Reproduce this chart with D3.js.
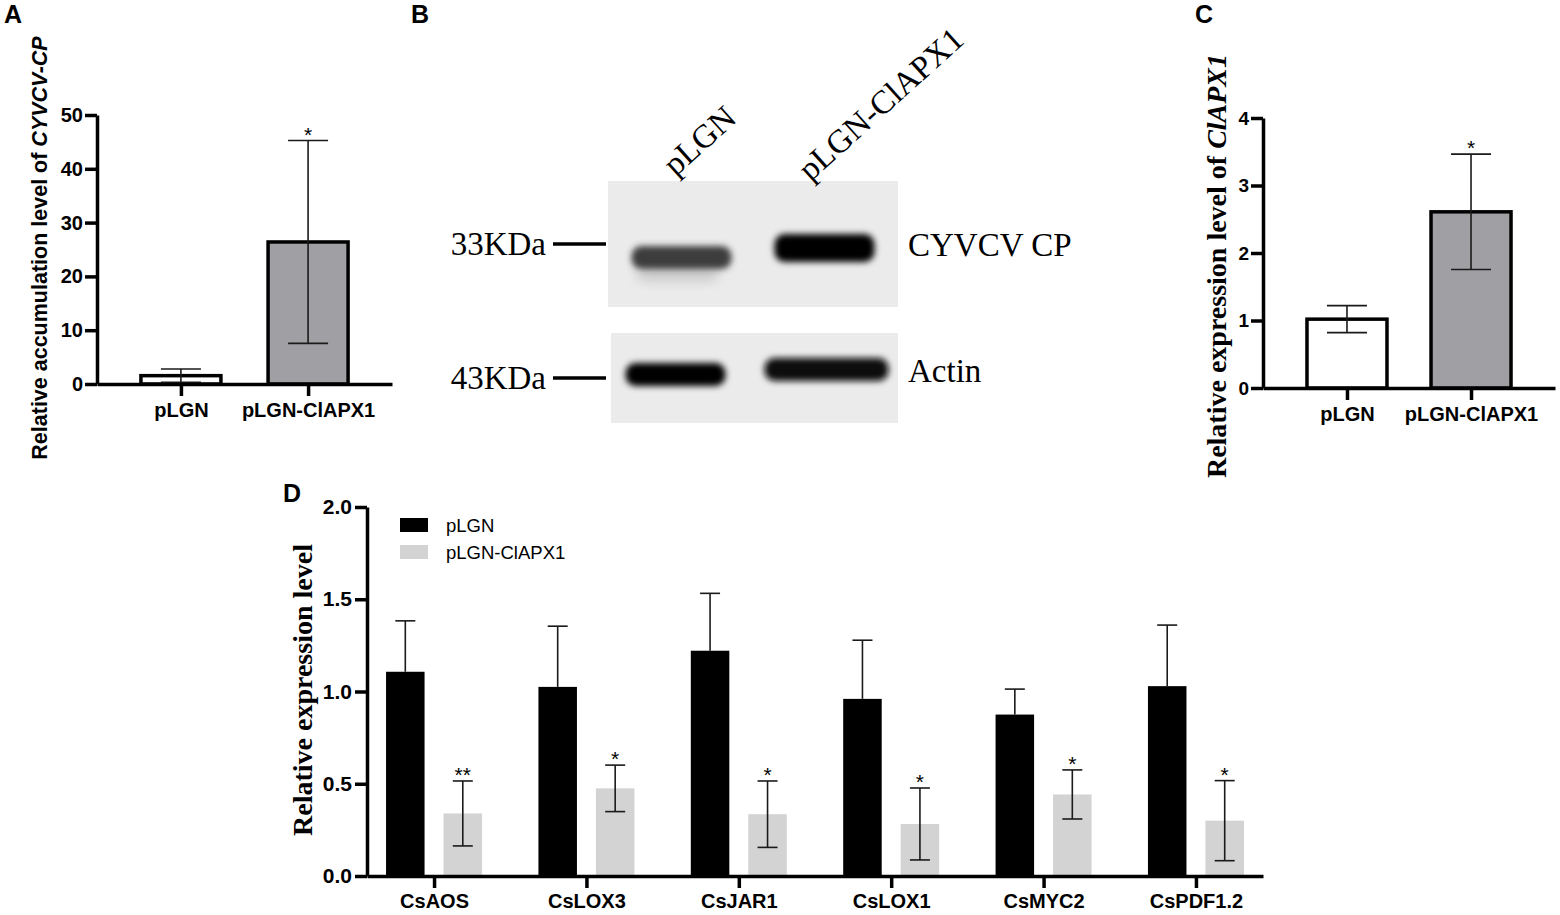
<!DOCTYPE html>
<html>
<head>
<meta charset="utf-8">
<script src="https://cdn.jsdelivr.net/npm/d3@7"></script>
<style>
  body { margin: 0; background: #fff; }
  svg { display: block; }
  text { font-family: "Liberation Sans", Arial, sans-serif; fill: #000; }
  .serif { font-family: "Liberation Serif", "Times New Roman", serif; }
</style>
</head>
<body>
<div id="chart"></div>
<script>
// ---- data ----
const groups = ['pLGN', 'pLGN-ClAPX1'];

// panel A: CYVCV-CP accumulation (mean, sd)
const cpMean = [1.55, 26.4];
const cpSD = [1.24, 18.85];
const cpSig = ['', '*'];
const cpTicks = [0, 10, 20, 30, 40, 50];

// panel C: ClAPX1 expression
const apxMean = [1.02, 2.61];
const apxSD = [0.2, 0.855];
const apxSig = ['', '*'];
const apxTicks = [0, 1, 2, 3, 4];

// panel D: JA pathway genes
const genes = ['CsAOS', 'CsLOX3', 'CsJAR1', 'CsLOX1', 'CsMYC2', 'CsPDF1.2'];
const ctrlMean = [1.107, 1.025, 1.221, 0.960, 0.875, 1.029];
const ctrlSD = [0.276, 0.329, 0.311, 0.318, 0.138, 0.331];
const apxGeneMean = [0.339, 0.475, 0.335, 0.282, 0.442, 0.300];
const apxGeneSD = [0.176, 0.126, 0.180, 0.195, 0.133, 0.217];
const geneSig = ['**', '*', '*', '*', '*', '*'];
const dTicks = [0, 0.5, 1.0, 1.5, 2.0];

// panel B: western blot
const blotRows = ['CYVCV CP', 'Actin'];
const markers = ['33KDa', '43KDa'];
const bandDensity = [[0.74, 1.0], [1.0, 0.96]];

const width = 1560, height = 915;

const svg = d3.select('#chart').append('svg')
  .attr('width', width)
  .attr('height', height);

const defs = svg.append('defs');
defs.append('filter').attr('id', 'blur')
  .attr('x', '-30%').attr('y', '-60%').attr('width', '160%').attr('height', '220%')
  .append('feGaussianBlur').attr('stdDeviation', 3.2);
defs.append('filter').attr('id', 'blur2')
  .attr('x', '-30%').attr('y', '-60%').attr('width', '160%').attr('height', '220%')
  .append('feGaussianBlur').attr('stdDeviation', 6);

// panel letters
const letters = [['A', 4, 23], ['B', 411, 23], ['C', 1195, 23], ['D', 283, 502]];
svg.selectAll('text.letter').data(letters).join('text')
  .attr('class', 'letter')
  .attr('x', d => d[1]).attr('y', d => d[2])
  .attr('font-size', 25).attr('font-weight', 'bold')
  .text(d => d[0]);

function styleAxis(g, w) {
  g.select('.domain').attr('stroke', '#000').attr('stroke-width', w);
  g.selectAll('.tick line').attr('stroke', '#000').attr('stroke-width', w);
  g.selectAll('.tick text').attr('font-weight', 'bold').attr('fill', '#000')
    .attr('font-family', '"Liberation Sans", Arial, sans-serif');
}

// simple 2-bar panel (A and C)
function twoBarPanel(cfg) {
  const g = svg.append('g');
  const x = d3.scalePoint().domain(groups).range(cfg.xRange).padding(cfg.pad);
  const y = d3.scaleLinear().domain([0, d3.max(cfg.ticks)]).range(cfg.yRange);
  const rows = groups.map((k, i) => ({ k, m: cfg.mean[i], sd: cfg.sd[i], sig: cfg.sig[i], i }));

  g.selectAll('rect.bar').data(rows).join('rect')
    .attr('x', d => x(d.k) - 40).attr('width', 80)
    .attr('y', d => y(d.m)).attr('height', d => y(0) - y(d.m))
    .attr('fill', d => d.i === 0 ? '#fff' : '#a0a0a4')
    .attr('stroke', '#000').attr('stroke-width', 3.5);

  const err = g.selectAll('g.err').data(rows).join('g').attr('stroke', '#1a1a1a').attr('stroke-width', 1.6);
  err.append('line').attr('x1', d => x(d.k)).attr('x2', d => x(d.k))
    .attr('y1', d => y(Math.max(0, d.m - d.sd))).attr('y2', d => y(d.m + d.sd));
  err.append('line').attr('x1', d => x(d.k) - 20).attr('x2', d => x(d.k) + 20)
    .attr('y1', d => y(d.m + d.sd)).attr('y2', d => y(d.m + d.sd));
  err.append('line').attr('x1', d => x(d.k) - 20).attr('x2', d => x(d.k) + 20)
    .attr('y1', d => y(Math.max(0, d.m - d.sd))).attr('y2', d => y(Math.max(0, d.m - d.sd)));

  g.selectAll('text.sig').data(rows).join('text')
    .attr('x', d => x(d.k)).attr('y', d => y(d.m + d.sd) + 1)
    .attr('text-anchor', 'middle').attr('font-size', 21)
    .text(d => d.sig);

  const ya = g.append('g').attr('transform', `translate(${cfg.xRange[0]},0)`)
    .call(d3.axisLeft(y).tickValues(cfg.ticks).tickFormat(d3.format('d'))
      .tickSize(12).tickPadding(2).tickSizeOuter(0));
  styleAxis(ya, 3.5);
  ya.selectAll('.tick text').attr('font-size', cfg.tickFont);

  const xa = g.append('g').attr('transform', `translate(0,${y(0)})`)
    .call(d3.axisBottom(x).tickSize(12).tickPadding(7).tickSizeOuter(0));
  styleAxis(xa, 3.5);
  xa.selectAll('.tick text').attr('font-size', 20);
  return g;
}

// ---- A ----
twoBarPanel({ xRange: [97, 392], pad: 0.66, yRange: [384, 115], ticks: cpTicks,
  mean: cpMean, sd: cpSD, sig: cpSig, tickFont: 20 });
const labA = svg.append('text')
  .attr('transform', 'translate(47,248) rotate(-90)')
  .attr('text-anchor', 'middle').attr('font-size', 21.5).attr('font-weight', 'bold');
labA.append('tspan').text('Relative accumulation level of ');
labA.append('tspan').attr('font-style', 'italic').text('CYVCV-CP');

// ---- C ----
twoBarPanel({ xRange: [1263, 1555], pad: 0.677, yRange: [388, 118], ticks: apxTicks,
  mean: apxMean, sd: apxSD, sig: apxSig, tickFont: 19 });
const labC = svg.append('text').attr('class', 'serif')
  .attr('transform', 'translate(1226,266) rotate(-90)')
  .attr('text-anchor', 'middle').attr('font-size', 28).attr('font-weight', 'bold');
labC.append('tspan').text('Relative expression level of ');
labC.append('tspan').attr('font-style', 'italic').text('ClAPX1');

// ---- B : western blot ----
const gb = svg.append('g');
const lane = d3.scalePoint().domain(groups).range([608, 898]).padding(0.514);
const rowY = d3.scalePoint().domain(blotRows).range([251, 372]);
const blotBox = [{ x0: 608, y0: 181, y1: 307 }, { x0: 611, y0: 333, y1: 423 }];

gb.selectAll('rect.blot').data(blotRows).join('rect')
  .attr('x', (d, i) => blotBox[i].x0).attr('width', (d, i) => 898 - blotBox[i].x0)
  .attr('y', (d, i) => blotBox[i].y0).attr('height', (d, i) => blotBox[i].y1 - blotBox[i].y0)
  .attr('fill', '#ebebeb');

const bands = [];
blotRows.forEach((r, ri) => groups.forEach((l, li) => bands.push({ r, ri, l, li, v: bandDensity[ri][li] })));
const shade = d3.interpolateRgb('#ebebeb', '#000');
// faint smear under the weak pLGN band
gb.append('rect')
  .attr('x', lane(groups[0]) - 45).attr('width', 82)
  .attr('y', rowY(blotRows[0]) + 14).attr('height', 16).attr('rx', 8)
  .attr('fill', '#c9c9c9').attr('filter', 'url(#blur2)');
gb.selectAll('rect.band').data(bands).join('rect')
  .attr('x', d => lane(d.l) - (d.ri === 1 && d.li === 1 ? 60 : 50) + (d.ri === 1 && d.li === 0 ? -6 : 0))
  .attr('width', d => d.ri === 1 && d.li === 1 ? 124 : 100)
  .attr('y', d => rowY(d.r) - 12 + (d.ri === 0 && d.li === 0 ? 7 : (d.ri === 0 ? -5 : (d.li === 0 ? 3 : -2))))
  .attr('height', d => d.ri === 0 && d.li === 1 ? 28 : 23)
  .attr('rx', 10)
  .attr('fill', d => shade(d.v))
  .attr('filter', 'url(#blur)');

gb.selectAll('line.marker').data(markers).join('line')
  .attr('x1', 553).attr('x2', 606)
  .attr('y1', (d, i) => i === 0 ? 244 : 378).attr('y2', (d, i) => i === 0 ? 244 : 378)
  .attr('stroke', '#000').attr('stroke-width', 3.5);
gb.selectAll('text.marker').data(markers).join('text')
  .attr('class', 'serif')
  .attr('x', 546).attr('y', (d, i) => i === 0 ? 255 : 389)
  .attr('text-anchor', 'end').attr('font-size', 33)
  .text(d => d);
gb.selectAll('text.rowlab').data(blotRows).join('text')
  .attr('class', 'serif')
  .attr('x', 908).attr('y', (d, i) => i === 0 ? 256 : 382)
  .attr('font-size', 33)
  .text(d => d);
gb.selectAll('text.lanelab').data(groups).join('text')
  .attr('class', 'serif')
  .attr('transform', (d, i) => `translate(${lane(d) - (i === 0 ? 6 : 14)},${i === 0 ? 177 : 182}) rotate(-42)`)
  .attr('font-size', 33)
  .text(d => d);

// ---- D ----
const gd = svg.append('g');
const xD = d3.scalePoint().domain(genes).range([367, 1263]).padding(0.44);
const xSub = d3.scaleBand().domain(groups).range([-48, 48]).paddingInner(0.33);
const yD = d3.scaleLinear().domain([0, 2]).range([876, 507]);
const fillsD = ['#000', '#d3d3d3'];

const dRows = [];
genes.forEach((gname, i) => {
  dRows.push({ gene: gname, grp: groups[0], m: ctrlMean[i], sd: ctrlSD[i], sig: '', gi: 0 });
  dRows.push({ gene: gname, grp: groups[1], m: apxGeneMean[i], sd: apxGeneSD[i], sig: geneSig[i], gi: 1 });
});
const cx = d => xD(d.gene) + xSub(d.grp) + xSub.bandwidth() / 2;

gd.selectAll('rect.bar').data(dRows).join('rect')
  .attr('x', d => xD(d.gene) + xSub(d.grp)).attr('width', xSub.bandwidth())
  .attr('y', d => yD(d.m)).attr('height', d => yD(0) - yD(d.m))
  .attr('fill', d => fillsD[d.gi]);

const errD = gd.selectAll('g.err').data(dRows).join('g').attr('stroke', '#1a1a1a').attr('stroke-width', 1.6);
errD.append('line').attr('x1', cx).attr('x2', cx)
  .attr('y1', d => d.gi === 0 ? yD(d.m) : yD(d.m - d.sd)).attr('y2', d => yD(d.m + d.sd));
errD.append('line').attr('x1', d => cx(d) - 10).attr('x2', d => cx(d) + 10)
  .attr('y1', d => yD(d.m + d.sd)).attr('y2', d => yD(d.m + d.sd));
errD.filter(d => d.gi === 1).append('line').attr('x1', d => cx(d) - 10).attr('x2', d => cx(d) + 10)
  .attr('y1', d => yD(d.m - d.sd)).attr('y2', d => yD(d.m - d.sd));
gd.selectAll('text.sig').data(dRows.filter(d => d.sig)).join('text')
  .attr('x', cx).attr('y', d => yD(d.m + d.sd) + 1)
  .attr('text-anchor', 'middle').attr('font-size', 21)
  .text(d => d.sig);

const yaD = gd.append('g').attr('transform', 'translate(367,0)')
  .call(d3.axisLeft(yD).tickValues(dTicks).tickFormat(d3.format('.1f')).tickSize(12).tickPadding(3).tickSizeOuter(0));
styleAxis(yaD, 3.5);
yaD.selectAll('.tick text').attr('font-size', 21);
const xaD = gd.append('g').attr('transform', 'translate(0,876)')
  .call(d3.axisBottom(xD).tickSize(12).tickPadding(6).tickSizeOuter(0));
styleAxis(xaD, 3.5);
xaD.selectAll('.tick text').attr('font-size', 20);

// legend
const leg = gd.selectAll('g.leg').data(groups).join('g')
  .attr('transform', (d, i) => `translate(400,${518 + i * 27})`);
leg.append('rect').attr('width', 28).attr('height', 14).attr('fill', (d, i) => fillsD[i]);
leg.append('text').attr('x', 46).attr('y', 14).attr('font-size', 18.5).text(d => d);

gd.append('text').attr('class', 'serif')
  .attr('transform', 'translate(312,690) rotate(-90)')
  .attr('text-anchor', 'middle').attr('font-size', 28).attr('font-weight', 'bold')
  .text('Relative expression level');
</script>
</body>
</html>
